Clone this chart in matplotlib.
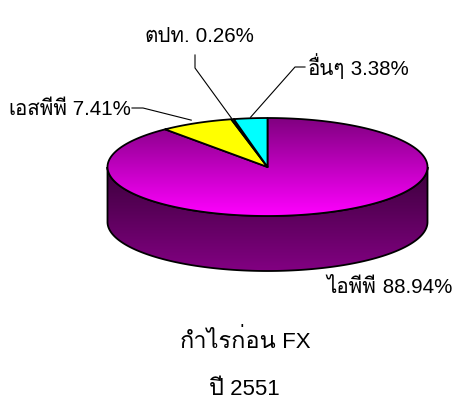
import numpy as np
import matplotlib
matplotlib.use("Agg")
import matplotlib.pyplot as plt
from matplotlib.patches import Polygon
from matplotlib.colors import LinearSegmentedColormap

plt.rcParams['font.family'] = ['Liberation Sans', 'Loma', 'Noto Sans Thai UI', 'DejaVu Sans']

# ---- data ----
labels = ['ไอพีพี', 'เอสพีพี', 'ตปท.', 'อื่นๆ']
values = [88.94, 7.41, 0.26, 3.38]
colors = ['#ff00ff', '#ffff00', '#333366', '#00ffff']
title_thai = ['กำไรก่อน', 'ปี']
title_rest = ['FX', '2551']

# ---- geometry (pixel space) ----
W, H = 455, 401
cx, cy, rx, ry, depth = 267.5, 167.0, 160.0, 49.0, 55.0

fig = plt.figure(figsize=(W / 100, H / 100), dpi=100)
ax = fig.add_axes([0, 0, 1, 1])
ax.set_xlim(0, W)
ax.set_ylim(H, 0)
ax.axis('off')
renderer = fig.canvas.get_renderer()


def pt(theta_deg, dy=0.0):
    t = np.radians(theta_deg)
    return cx + rx * np.sin(t), cy - ry * np.cos(t) + dy


def arc(a0, a1, dy=0.0, n=200):
    th = np.linspace(a0, a1, n)
    x, y = pt(th, dy)
    return np.column_stack([x, y])


def grad_fill(poly_xy, c_top, c_bot, y0, y1, z):
    cmap = LinearSegmentedColormap.from_list('g', [c_top, c_bot])
    g = np.linspace(0, 1, 256).reshape(-1, 1)
    xs = poly_xy[:, 0]
    im = ax.imshow(g, cmap=cmap, aspect='auto', extent=(xs.min() - 1, xs.max() + 1, y1, y0),
                   zorder=z, interpolation='bilinear')
    patch = Polygon(poly_xy, closed=True, facecolor='none', edgecolor='none')
    ax.add_patch(patch)
    im.set_clip_path(patch)


def mixed(x, y, thai, rest, fs_t, fs_l, ha='left'):
    """Thai word (Thai font) followed by Latin text; x,y in pixels, y baseline."""
    t1 = ax.text(0, y, thai, fontsize=fs_t, family=['Loma', 'Liberation Sans'],
                 ha='left', va='baseline', zorder=6)
    t2 = ax.text(0, y, ' ' + rest, fontsize=fs_l, ha='left', va='baseline', zorder=6)
    w1 = t1.get_window_extent(renderer).width
    w2 = t2.get_window_extent(renderer).width
    if ha == 'center':
        x0 = x - (w1 + w2) / 2
    elif ha == 'right':
        x0 = x - (w1 + w2)
    else:
        x0 = x
    t1.set_x(x0)
    t2.set_x(x0 + w1)


total = sum(values)
bounds = np.concatenate([[0], np.cumsum(values) / total * 360.0])

# ---- side wall (front half, 90..270 deg) ----
top_edge = arc(90, 270)
bot_edge = arc(270, 90, dy=depth)
side = np.vstack([top_edge, bot_edge])
grad_fill(side, '#380038', '#820082', cy - 5, cy + ry + depth, 1)
ax.add_patch(Polygon(side, closed=True, facecolor='none', edgecolor='black', lw=1.3, zorder=2))

# ---- top wedges ----
for i, (v, c) in enumerate(zip(values, colors)):
    a0, a1 = bounds[i], bounds[i + 1]
    poly = np.vstack([[cx, cy], arc(a0, a1, n=max(int(a1 - a0) * 2, 4))])
    if i == 0:
        grad_fill(poly, '#800080', '#ff00ff', cy - ry, cy + ry, 3)
        ax.add_patch(Polygon(poly, closed=True, facecolor='none', edgecolor='black',
                             lw=1.3, zorder=4, joinstyle='round'))
    else:
        ax.add_patch(Polygon(poly, closed=True, facecolor=c, edgecolor='black',
                             lw=1.3, zorder=4, joinstyle='round'))

# ---- labels with leader lines ----
fs_l, fs_t = 14.8, 14.8
pct = [f'{v:.2f}%' for v in values]
mid = [(bounds[i] + bounds[i + 1]) / 2 for i in range(len(values))]

mixed(452, 293, labels[0], pct[0], fs_t, fs_l, ha='right')
mixed(8, 115, labels[1], pct[1], fs_t, fs_l)
mx, my = pt(mid[1])
ax.plot([132, 143, mx - 5], [108, 108, my - 3], color='black', lw=0.8, zorder=5)
mixed(144, 42, labels[2], pct[2], fs_t, fs_l)
mx, my = pt(mid[2])
ax.plot([195, 195, mx - 1], [55, 68, my - 1], color='black', lw=0.8, zorder=5)
mixed(308, 75, labels[3], pct[3], fs_t, fs_l)
mx, my = pt(mid[3])
ax.plot([305, 295, mx], [67, 67, my - 1], color='black', lw=0.8, zorder=5)

# ---- title ----
mixed(245, 348, title_thai[0], title_rest[0], 17, 16, ha='center')
mixed(244, 395, title_thai[1], title_rest[1], 17, 16, ha='center')

fig.savefig('out.png', dpi=100)
